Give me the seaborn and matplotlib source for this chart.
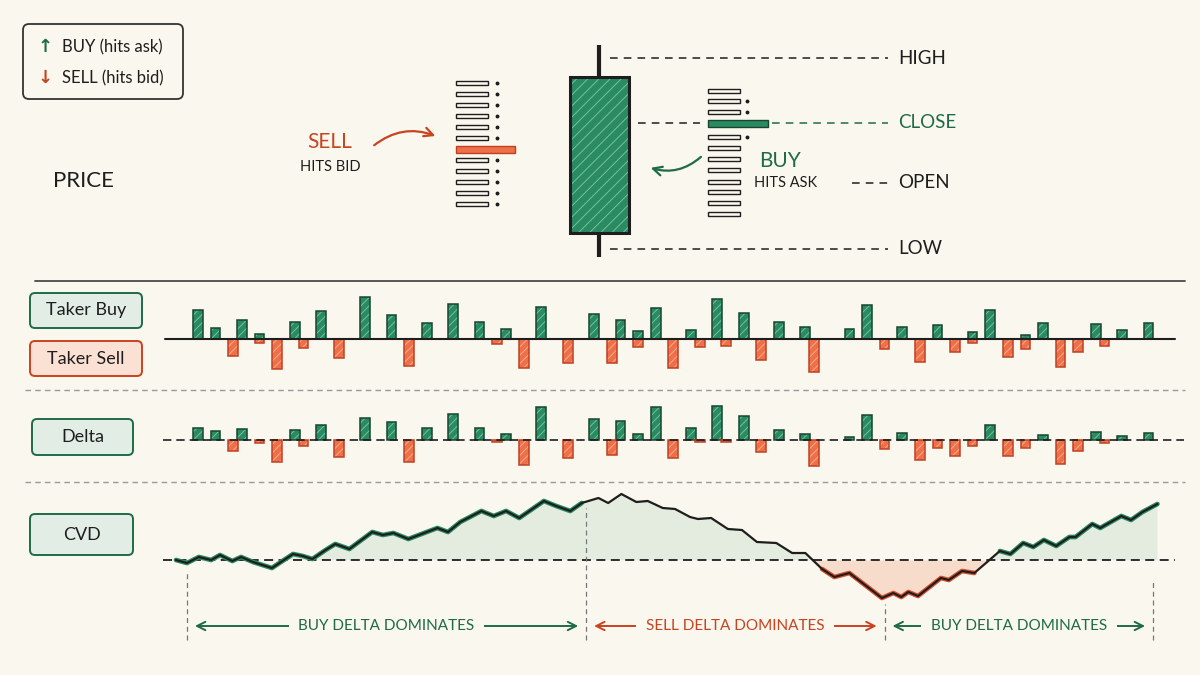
import numpy as np
import pandas as pd
import seaborn as sns
import matplotlib.pyplot as plt
from matplotlib.patches import FancyBboxPatch

# ---------------- data ----------------
# time slots (minutes) for the taker / delta bars
slot_t = [0, 2, 4, 5, 7, 9, 11, 12, 14, 16, 19, 22, 24, 26, 29, 32, 34, 35, 37, 39,
          42, 45, 47, 48, 50, 52, 54, 56, 57, 59, 60, 62, 64, 66, 69, 70, 74, 76, 78, 80,
          82, 84, 86, 88, 90, 92, 94, 96, 98, 100, 102, 103, 105, 108]
taker_buy = [86, 32, 0, 56, 16, 0, 52, 0, 83, 0, 125, 73, 0, 47, 105, 51, 0, 30, 0, 97,
             0, 75, 0, 57, 23, 92, 0, 28, 0, 120, 0, 78, 0, 51, 35, 0, 31, 102, 0, 37,
             0, 42, 0, 20, 88, 0, 13, 47, 0, 0, 45, 0, 28, 47]
taker_sell = [0, 0, 52, 0, 11, 91, 0, 26, 0, 56, 0, 0, 82, 0, 0, 0, 14, 0, 87, 0,
              71, 0, 72, 0, 24, 0, 88, 0, 24, 0, 22, 0, 63, 0, 0, 98, 0, 0, 29, 0,
              69, 0, 40, 11, 0, 55, 31, 0, 84, 38, 0, 20, 0, 0]
delta = [37, 27, -32, 32, -8, -67, 29, -18, 46, -50, 65, 55, -66, 35, 77, 37, -6, 18, -76, 99,
         -53, 62, -46, 56, 19, 99, -54, 35, -7, 101, -5, 72, -36, 30, 18, -79, 10, 76, -27, 22,
         -59, -24, -47, -17, 44, -47, -23, 16, -72, -32, 24, -10, 12, 21]

cvd_t = [-2.5, -1.25, 0.1, 1.5, 2.5, 3.9, 4.9, 6.25, 8.4, 10.8, 11.9, 13.0, 14.5, 15.6,
         17.2, 19.8, 21.0, 22.2, 23.9, 27.2, 28.4, 29.8, 32.2, 33.6, 35.0, 36.5, 39.3,
         40.7, 42.3, 43.6, 45.5, 46.6, 48.1, 49.8, 51.1, 52.8, 54.2, 55.9, 56.8, 58.3,
         60.2, 61.8, 63.5, 65.7, 67.5, 69.0, 70.9, 72.3, 74.0, 77.7, 79.0, 79.9, 80.7,
         81.8, 84.4, 85.3, 86.8, 88.2, 91.1, 92.3, 93.75, 94.9, 96.1, 97.5, 99.0, 99.7,
         101.6, 102.5, 104.9, 106.0, 107.3, 109.0]
cvd = [0, -3, 3, 0, 5, -1, 3, -2, -8, 6, 4, 1, 10, 16, 11, 28, 25, 27, 21, 32,
       28, 38, 49, 44, 49, 42, 59, 54, 49, 57, 62, 57, 66, 58, 59, 52, 51, 43, 41, 42,
       31, 30, 18, 17, 7, 7, -9, -17, -13, -38, -33, -37, -32, -36, -18, -20, -11, -13, 9, 6,
       17, 13, 20, 14, 23, 23, 36, 32, 44, 40, 48, 56]

regime_edges = [-1.25, 44.1, 78.0, 108.5]
regime_labels = ["BUY DELTA DOMINATES", "SELL DELTA DOMINATES", "BUY DELTA DOMINATES"]
regime_side = ["buy", "sell", "buy"]

# single candle (price units) and the two order-book ladders
candle_open, candle_high, candle_low, candle_close = 37, 225, 13, 193
level_names = ["HIGH", "CLOSE", "OPEN", "LOW"]
level_prices = [212, 147, 87, 21]
bid_levels = [187, 176, 165, 154, 143, 132, 121, 110, 99, 88, 77, 66]
bid_sizes = [32, 32, 32, 32, 32, 32, 59, 32, 32, 32, 32, 32]
bid_hit = 6
ask_levels = [179, 169, 158, 147, 133, 122, 111, 100, 88, 78, 67, 56]
ask_sizes = [32, 32, 32, 60, 32, 32, 32, 32, 32, 32, 32, 32]
ask_hit = 3
ask_dots = [1, 2, 4]

# ---------------- style ----------------
BG = "#faf7ee"
INK = "#1e1e1e"
GREEN = "#2a8a62"
GREEN_DARK = "#17452f"
GREEN_TXT = "#1f6b48"
GREEN_HATCH = "#73c29e"
RED = "#ee7049"
RED_DARK = "#bf4023"
RED_TXT = "#c8431f"
RED_HATCH = "#f8ab8d"
GREEN_SOFT = "#e2eee5"
RED_SOFT = "#fbe1d4"

sns.set_theme(style="white")
plt.rcParams["font.family"] = ["Lato", "DejaVu Sans"]
plt.rcParams["hatch.linewidth"] = 0.7

fig = plt.figure(figsize=(12, 6.75), dpi=100, facecolor=BG)


def frame(x0, y0, x1, y1):
    return [x0 / 1200, 1 - y1 / 675, (x1 - x0) / 1200, (y1 - y0) / 675]


ax_bg = fig.add_axes([0, 0, 1, 1])
ax_bg.set_xlim(0, 1200)
ax_bg.set_ylim(675, 0)
ax_bg.axis("off")

# section separators
ax_bg.plot([35, 1185], [281, 281], color="#4a4a4a", lw=1.3)
for yy in (390, 482):
    ax_bg.plot([25, 1185], [yy, yy], color="#9a9a9a", lw=1.0, ls=(0, (4, 3)))

# legend box top-left
ax_bg.add_patch(FancyBboxPatch((23, 24), 160, 75, boxstyle="round,pad=0,rounding_size=6",
                               facecolor=BG, edgecolor="#333333", lw=1.3))
ax_bg.text(45, 47, "\u2191", color=GREEN_TXT, fontsize=13, ha="center", va="center",
           fontweight="bold", family=["DejaVu Sans"])
ax_bg.text(62, 47, "BUY (hits ask)", color=INK, fontsize=12, va="center")
ax_bg.text(45, 78, "\u2193", color=RED_TXT, fontsize=13, ha="center", va="center",
           fontweight="bold", family=["DejaVu Sans"])
ax_bg.text(62, 78, "SELL (hits bid)", color=INK, fontsize=12, va="center")
ax_bg.text(53, 181, "PRICE", color=INK, fontsize=16, va="center")

# panel label boxes
labels = [("Taker Buy", 30, 293, 112, 35, GREEN_SOFT, GREEN_TXT),
          ("Taker Sell", 30, 341, 112, 35, RED_SOFT, RED_TXT),
          ("Delta", 32, 419, 101, 36, GREEN_SOFT, GREEN_TXT),
          ("CVD", 30, 514, 103, 41, GREEN_SOFT, GREEN_TXT)]
for txt, x0, y0, w, h, fc, ec in labels:
    ax_bg.add_patch(FancyBboxPatch((x0, y0), w, h, boxstyle="round,pad=0,rounding_size=5",
                                   facecolor=fc, edgecolor=ec, lw=1.4))
    ax_bg.text(x0 + w / 2, y0 + h / 2, txt, color=INK, fontsize=13, ha="center", va="center")

# ---------------- top: candle + order book ----------------
ax_top = fig.add_axes(frame(0, 30, 1200, 270))
ax_top.set_xlim(0, 1200)
ax_top.set_ylim(0, 240)
ax_top.axis("off")

CX = 599
ax_top.vlines(CX, candle_low, candle_open, color=INK, lw=3)
ax_top.vlines(CX, candle_close, candle_high, color=INK, lw=3)
ax_top.bar(CX, candle_close - candle_open, bottom=candle_open, width=59, color=GREEN,
           edgecolor=GREEN_HATCH, hatch="///", lw=0, zorder=2)
ax_top.bar(CX, candle_close - candle_open, bottom=candle_open, width=59, fill=False,
           edgecolor=INK, lw=2.2, zorder=3)

dash = (0, (5, 4))
guides = {"HIGH": [(610, 888, INK)],
          "CLOSE": [(638, 700, INK), (772, 888, GREEN_TXT)],
          "OPEN": [(852, 888, INK)],
          "LOW": [(610, 888, INK)]}
for name, price in zip(level_names, level_prices):
    for xa, xb, col in guides[name]:
        ax_top.plot([xa, xb], [price, price], color=col, lw=1.1, ls=dash)
    ax_top.text(898, price, name, color=GREEN_TXT if name == "CLOSE" else INK,
                fontsize=13.5, va="center")

# bid ladder (sell hits bid)
b_face = [RED if i == bid_hit else BG for i in range(len(bid_levels))]
b_edge = [RED_DARK if i == bid_hit else INK for i in range(len(bid_levels))]
b_h = [7 if i == bid_hit else 3.6 for i in range(len(bid_levels))]
ax_top.barh(bid_levels, bid_sizes, left=456, height=b_h, color=b_face, edgecolor=b_edge, lw=1)
dots = [lv for i, lv in enumerate(bid_levels) if i != bid_hit]
ax_top.plot([497] * len(dots), dots, "o", ms=1.8, color=INK)

# ask ladder (buy hits ask)
a_face = [GREEN if i == ask_hit else BG for i in range(len(ask_levels))]
a_edge = [GREEN_DARK if i == ask_hit else INK for i in range(len(ask_levels))]
a_h = [7 if i == ask_hit else 3.6 for i in range(len(ask_levels))]
ax_top.barh(ask_levels, ask_sizes, left=708, height=a_h, color=a_face, edgecolor=a_edge, lw=1)
ax_top.plot([747] * len(ask_dots), [ask_levels[i] for i in ask_dots], "o", ms=1.8, color=INK)

ax_top.text(330, 128, "SELL", color=RED_TXT, fontsize=15, ha="center", va="center")
ax_top.text(330, 103, "HITS BID", color=INK, fontsize=10.5, ha="center", va="center")
ax_top.annotate("", xy=(438, 133), xytext=(372, 123),
                arrowprops=dict(arrowstyle="->", color=RED_TXT, lw=1.6,
                                connectionstyle="arc3,rad=-0.3", mutation_scale=16))
ax_top.text(780, 109, "BUY", color=GREEN_TXT, fontsize=15, ha="center", va="center")
ax_top.text(786, 87, "HITS ASK", color=INK, fontsize=10.5, ha="center", va="center")
ax_top.annotate("", xy=(648, 103), xytext=(703, 115),
                arrowprops=dict(arrowstyle="->", color=GREEN_TXT, lw=1.6,
                                connectionstyle="arc3,rad=-0.3", mutation_scale=16))

# ---------------- bar panels ----------------
T_LIM = (-5.45, 112.7)
BAR_W = 1.1


def panel(y0, y1, ylim):
    ax = fig.add_axes(frame(150, y0, 1190, y1))
    ax.set_xlim(*T_LIM)
    ax.set_ylim(*ylim)
    ax.axis("off")
    return ax


def hatched_bars(ax, t, h, face, hatch_col, edge):
    t = np.asarray(t, float)
    h = np.asarray(h, float)
    keep = h != 0
    ax.bar(t[keep], h[keep], width=BAR_W, color=face, edgecolor=hatch_col,
           hatch="////", lw=0, zorder=2)
    ax.bar(t[keep], h[keep], width=BAR_W, fill=False, edgecolor=edge, lw=1.1, zorder=3)


bars = pd.DataFrame({"t": slot_t, "buy": taker_buy, "sell": taker_sell, "delta": delta})

ax_tk = panel(285, 385, (-138, 162))
ax_tk.plot([-3.75, 111], [0, 0], color=INK, lw=1.5, zorder=4)
hatched_bars(ax_tk, bars["t"], bars["buy"], GREEN, GREEN_HATCH, GREEN_DARK)
hatched_bars(ax_tk, bars["t"], -bars["sell"], RED, RED_HATCH, RED_DARK)

ax_dl = panel(395, 478, (-114, 135))
ax_dl.plot([-4, 112], [0, 0], color=INK, lw=1.2, ls=(0, (5, 3)), zorder=4)
pos = bars["delta"].clip(lower=0)
neg = bars["delta"].clip(upper=0)
hatched_bars(ax_dl, bars["t"], pos, GREEN, GREEN_HATCH, GREEN_DARK)
hatched_bars(ax_dl, bars["t"], neg, RED, RED_HATCH, RED_DARK)

# ---------------- CVD ----------------
ax_cv = panel(486, 645, (-85, 74))
cv = pd.DataFrame({"t": cvd_t, "cvd": cvd})
tt = cv["t"].to_numpy()
vv = cv["cvd"].to_numpy(float)

ax_cv.fill_between(tt, vv, 0, where=vv >= 0, interpolate=True, color=GREEN, alpha=0.10, lw=0)
ax_cv.fill_between(tt, vv, 0, where=(vv <= 0) & (tt > regime_edges[1]), interpolate=True,
                   color="#f0703f", alpha=0.2, lw=0)
ax_cv.plot([-4, 111], [0, 0], color=INK, lw=1.3, ls=(0, (5, 3)), zorder=1)

green_seg = np.where((tt <= regime_edges[1]) | ((tt >= regime_edges[2]) & (vv >= 0)), vv, np.nan)
red_seg = np.where((tt > regime_edges[1]) & (vv <= 0), vv, np.nan)
ax_cv.plot(tt, green_seg, color=GREEN, lw=3.4, zorder=2, solid_capstyle="round")
ax_cv.plot(tt, red_seg, color="#d9502e", lw=3.4, zorder=2, solid_capstyle="round")
sns.lineplot(data=cv, x="t", y="cvd", ax=ax_cv, color=INK, lw=1.6, zorder=3)
ax_cv.axis("off")

vline_tops = [-10, 52, -44, -20]
for edge, top in zip(regime_edges, vline_tops):
    ax_cv.plot([edge, edge], [-80, top], color="#777777", lw=0.9, ls=(0, (4, 3)))

for i, (lab, side) in enumerate(zip(regime_labels, regime_side)):
    col = GREEN_TXT if side == "buy" else RED_TXT
    a, b = regime_edges[i] + 0.9, regime_edges[i + 1] - 0.9
    ax_cv.annotate("", xy=(a, -66), xytext=(b, -66),
                   arrowprops=dict(arrowstyle="<->,head_length=0.5,head_width=0.25",
                                   color=col, lw=1.4, shrinkA=0, shrinkB=0))
    ax_cv.text((a + b) / 2, -66, lab, color=col, fontsize=11, ha="center", va="center",
               bbox=dict(facecolor=BG, edgecolor="none", pad=7))

fig.savefig("out.png", dpi=100, facecolor=BG)
